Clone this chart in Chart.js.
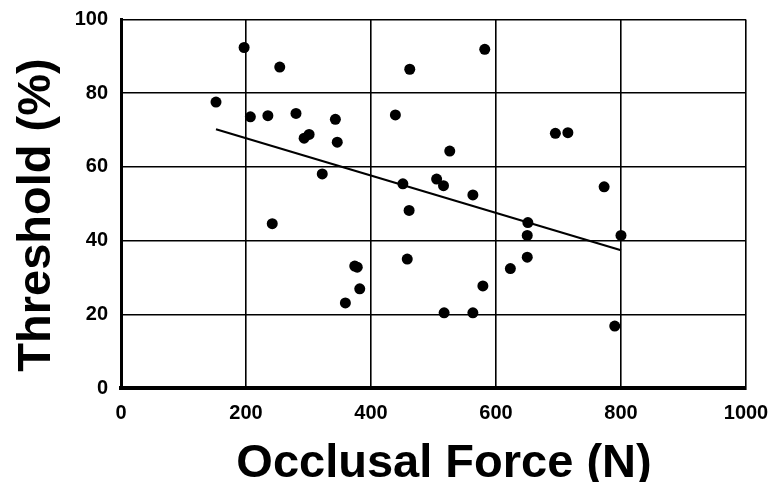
<!DOCTYPE html>
<html>
<head>
<meta charset="utf-8">
<script src="https://cdn.jsdelivr.net/npm/chart.js@4/dist/chart.umd.min.js"></script>
<style>
  html, body { margin: 0; padding: 0; background: #ffffff; }
  #wrap { width: 775px; height: 482px; position: relative; }
</style>
</head>
<body>
<div id="wrap"><canvas id="c" width="775" height="482"></canvas></div>
<script>
// ---- Data ----
const forceN = [152, 197, 254, 207, 235, 280, 343, 293, 301, 346, 322, 462, 582, 439, 526, 695, 715, 451, 505, 516, 563, 773, 242, 374, 378, 382, 359, 461, 458, 517, 563, 579, 623, 650, 651, 650, 800, 790];
const thresholdPct = [77.6, 92.4, 87.1, 73.6, 73.9, 74.5, 72.9, 67.8, 68.8, 66.7, 58.1, 86.5, 91.9, 74.1, 64.3, 69.1, 69.3, 55.4, 56.7, 54.9, 52.4, 54.6, 44.6, 33.1, 32.8, 26.9, 23.1, 48.2, 35.0, 20.4, 20.4, 27.7, 32.4, 35.5, 44.9, 41.4, 41.4, 16.8];
const fitLineX = [152, 800];
const fitLineY = [70.2, 37.4];
const xTicks = [0, 200, 400, 600, 800, 1000];
const yTicks = [0, 20, 40, 60, 80, 100];
const xTitle = "Occlusal Force (N)";
const yTitle = "Threshold (%)";

const scatterPoints = forceN.map((x, i) => ({ x: x, y: thresholdPct[i] }));
const linePoints = fitLineX.map((x, i) => ({ x: x, y: fitLineY[i] }));

const FONT = "'Liberation Sans', Arial, Helvetica, sans-serif";

const titlePlugin = {
  id: 'axisTitles',
  afterDraw(chart) {
    const ctx = chart.ctx;
    ctx.save();
    ctx.fillStyle = '#000';
    ctx.font = "bold 47px " + FONT;
    ctx.textAlign = 'center';
    ctx.textBaseline = 'alphabetic';
    ctx.fillText(xTitle, 444, 477);
    ctx.translate(50, 215);
    ctx.rotate(-Math.PI / 2);
    ctx.fillText(yTitle, 0, 0);
    ctx.restore();
  }
};

new Chart(document.getElementById('c'), {
  type: 'scatter',
  data: {
    datasets: [
      {
        label: 'Data',
        data: scatterPoints,
        backgroundColor: '#000',
        borderColor: '#000',
        pointRadius: 5.5,
        pointHoverRadius: 5.5,
        borderWidth: 0
      },
      {
        label: 'Fit',
        type: 'line',
        data: linePoints,
        borderColor: '#000',
        borderWidth: 2.2,
        pointRadius: 0,
        fill: false,
        tension: 0
      }
    ]
  },
  options: {
    responsive: false,
    animation: false,
    events: [],
    layout: { padding: { top: 19.5, right: 29, left: 0, bottom: 0 } },
    plugins: {
      legend: { display: false },
      tooltip: { enabled: false }
    },
    scales: {
      x: {
        type: 'linear',
        min: 0, max: 1000,
        afterBuildTicks: (s) => { s.ticks = xTicks.map(v => ({ value: v })); },
        afterFit: (s) => { s.height = 94; s.paddingLeft = 0; s.paddingRight = 0; },
        grid: { color: '#000', lineWidth: 1.6, drawTicks: false },
        border: { color: '#000', width: 4 },
        ticks: {
          color: '#000',
          padding: 13,
          font: { family: FONT, size: 20, weight: 'bold' },
          maxRotation: 0,
          callback: (v) => String(v)
        }
      },
      y: {
        type: 'linear',
        min: 0, max: 100,
        afterBuildTicks: (s) => { s.ticks = yTicks.map(v => ({ value: v })); },
        afterFit: (s) => { s.width = 121; s.paddingTop = 0; s.paddingBottom = 0; },
        grid: { color: '#000', lineWidth: 1.6, drawTicks: false },
        border: { color: '#000', width: 3 },
        ticks: {
          color: '#000',
          padding: 13,
          font: { family: FONT, size: 20, weight: 'bold' },
          callback: (v) => String(v)
        }
      }
    }
  },
  plugins: [titlePlugin]
});
</script>
</body>
</html>
